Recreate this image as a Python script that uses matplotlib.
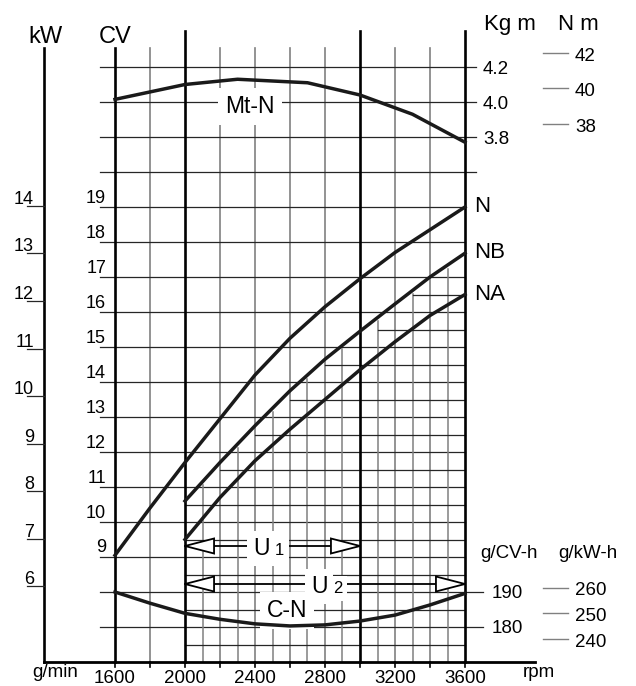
import numpy as np
import matplotlib
matplotlib.use('Agg')
import matplotlib.pyplot as plt
from matplotlib.patches import Polygon

plt.rcParams['font.family'] = ['Liberation Sans', 'DejaVu Sans']

# engine curves
rpm = [1600, 1800, 2000, 2200, 2400, 2600, 2800, 3000, 3200, 3400, 3600]
power_n = [9.05, 10.4, 11.7, 12.95, 14.2, 15.25, 16.15, 16.95, 17.7, 18.35, 19.0]       # CV
rpm_ab = [2000, 2200, 2400, 2600, 2800, 3000, 3200, 3400, 3600]
power_nb = [10.6, 11.7, 12.75, 13.75, 14.65, 15.45, 16.23, 17.0, 17.68]
power_na = [9.5, 10.7, 11.75, 12.65, 13.5, 14.35, 15.15, 15.9, 16.5]
torque_rpm = [1600, 2000, 2300, 2700, 3000, 3300, 3600]
torque_kgm = [4.015, 4.10, 4.13, 4.11, 4.04, 3.93, 3.77]
consumption = [190.0, 186.8, 183.9, 182.2, 180.9, 180.3, 180.6, 181.7, 183.4, 186.3, 189.6]  # g/CV-h

cv_ticks = list(range(9, 20))
kw_ticks = list(range(6, 15))
kgm_ticks = [3.8, 4.0, 4.2]
nm_ticks = [38, 40, 42]
gcv_ticks = [180, 190]
gkw_ticks = [240, 250, 260]
rpm_labels = [1600, 2000, 2400, 2800, 3200, 3600]
u1_range = (2000, 3000)
u2_range = (2000, 3600)

KW_TO_CV = 1.3596
KGF = 9.80665


def torque_y(kgm):
    return 21 + (np.asarray(kgm) - 3.8) / 0.2


def cons_y(g):
    return 7 + (np.asarray(g) - 180) / 10


# pixel -> data helpers for layout (1600 rpm at x=115, 35 px per 200 rpm / per CV)
def px(x):
    return 1600 + (x - 115) / 0.175


def py(y):
    return 6 + (662 - y) / 35


def dpy(d):
    return d / 35


fig = plt.figure(figsize=(6.36, 6.86), dpi=100)
ax = fig.add_axes([0, 0, 1, 1])
ax.set_xlim(px(0), px(636))
ax.set_ylim(py(686), py(0))
ax.axis('off')

GRAY = '#808080'
DARK = '#262626'
INK = '#1a1a1a'

# vertical grid
top_thin, top_thick = py(48), py(31)
for r in range(1800, 3600, 200):
    if r in (2000, 3000):
        continue
    ax.plot([r, r], [6, top_thin], color=GRAY, lw=1.2, zorder=1)
ax.plot([1600, 1600], [6, top_thin], color='black', lw=1.9, zorder=2)
for r in (2000, 3000, 3600):
    ax.plot([r, r], [6, top_thick], color='black', lw=1.9, zorder=2)
ax.plot([px(44), px(44)], [6, top_thin], color='black', lw=1.9, zorder=2)

# horizontal grid
for lev in range(7, 24):
    right = 3600
    if lev >= 20:
        right = px(476)
    if lev in (7, 8):
        right = px(483)
    ax.plot([px(100), right], [lev, lev], color=DARK, lw=0.9, zorder=1)

# fine grid under the NB curve
for r in range(2100, 3600, 200):
    top = np.interp(r, rpm_ab, power_nb) - 0.1
    ax.plot([r, r], [6, top], color=GRAY, lw=1.1, zorder=1)
for h in np.arange(6.5, 18, 1.0):
    start = np.ceil(np.interp(h, power_nb, rpm_ab) / 100) * 100
    if start < 3600:
        ax.plot([start, 3600], [h, h], color=DARK, lw=0.9, zorder=1)

# x axis
ax.plot([px(44), px(535)], [6, 6], color='black', lw=2.0, zorder=2)
for r in range(1600, 3601, 200):
    ax.plot([r, r], [6, py(667)], color='black', lw=1.2, zorder=2)

# curves
for xs, ys in [(rpm, power_n), (rpm_ab, power_nb), (rpm_ab, power_na),
               (torque_rpm, torque_y(torque_kgm)), (rpm, cons_y(consumption))]:
    ax.plot(xs, ys, color=INK, lw=2.5, zorder=5, solid_joinstyle='round')

box = dict(boxstyle='square,pad=0.3', facecolor='white', edgecolor='none')
ax.text(px(250), py(113), 'Mt-N', fontsize=16.5, ha='center', va='baseline', bbox=box, zorder=4)
ax.text(px(287), py(617), 'C-N', fontsize=16.5, ha='center', va='baseline', bbox=box, zorder=4)


def arrow(rng, level, sub, ux):
    ax.plot(rng, [level, level], color='black', lw=1.3, zorder=3)
    w, hh = 166, dpy(7.5)
    for tip, sgn in ((rng[0], 1), (rng[1], -1)):
        tri = Polygon([[tip, level], [tip + sgn * w, level + hh], [tip + sgn * w, level - hh]],
                      closed=True, facecolor='white', edgecolor='black', lw=1.3, zorder=4)
        ax.add_patch(tri)
    base = level - dpy(9)
    ax.text(px(ux), base, 'U', fontsize=16.5, ha='left', va='baseline',
            bbox=dict(boxstyle='square,pad=0.25', facecolor='white', edgecolor='none'), zorder=6)
    ax.text(px(ux + 22), base, sub, fontsize=12, ha='left', va='baseline',
            bbox=dict(boxstyle='square,pad=0.3', facecolor='white', edgecolor='none'), zorder=6)


arrow(u1_range, py(546), '1', 253)
arrow(u2_range, py(584), '2', 311)

# left scales
for k in kw_ticks:
    yk = k * KW_TO_CV
    ax.plot([px(27), px(44)], [yk, yk], color=DARK, lw=0.9, zorder=2)
    ax.text(px(34), yk + dpy(2), str(k), fontsize=13, ha='right', va='baseline')
for c in cv_ticks:
    ax.text(px(106), c + dpy(4.5), str(c), fontsize=13, ha='right', va='baseline')
ax.text(px(28), py(43), 'kW', fontsize=17, ha='left', va='baseline')
ax.text(px(99), py(43), 'CV', fontsize=17, ha='left', va='baseline')

# torque scales
for t in kgm_ticks:
    ax.text(px(483), torque_y(t) - dpy(7), f'{t:.1f}', fontsize=13.5, ha='left', va='baseline')
for n in nm_ticks:
    yn = torque_y(n / KGF)
    ax.plot([px(543), px(568)], [yn, yn], color=GRAY, lw=1.0, zorder=2)
    ax.text(px(575), yn - dpy(8), str(n), fontsize=13.5, ha='left', va='baseline')
ax.text(px(484), py(30), 'Kg m', fontsize=16, ha='left', va='baseline')
ax.text(px(558), py(30), 'N m', fontsize=16, ha='left', va='baseline')

# curve names
for name, yv in (('N', power_n[-1]), ('NB', power_nb[-1]), ('NA', power_na[-1])):
    ax.text(px(474), yv - dpy(5), name, fontsize=16, ha='left', va='baseline')

# consumption scales
for g in gcv_ticks:
    ax.text(px(492), cons_y(g) - dpy(6), str(g), fontsize=13.5, ha='left', va='baseline')
for g in gkw_ticks:
    yg = cons_y(g / KW_TO_CV)
    ax.plot([px(543), px(568)], [yg, yg], color=GRAY, lw=1.0, zorder=2)
    ax.text(px(575), yg - dpy(7.5), str(g), fontsize=13.5, ha='left', va='baseline')
ax.text(px(480), py(558), 'g/CV-h', fontsize=13.5, ha='left', va='baseline')
ax.text(px(558), py(558), 'g/kW-h', fontsize=13.5, ha='left', va='baseline')

# rpm axis labels
for r in rpm_labels:
    ax.text(r, py(683), str(r), fontsize=13.5, ha='center', va='baseline')
ax.text(px(32), py(677), 'g/min', fontsize=13.5, ha='left', va='baseline')
ax.text(px(523), py(677), 'rpm', fontsize=13.5, ha='left', va='baseline')

fig.savefig('out.png', dpi=100, facecolor='white')
